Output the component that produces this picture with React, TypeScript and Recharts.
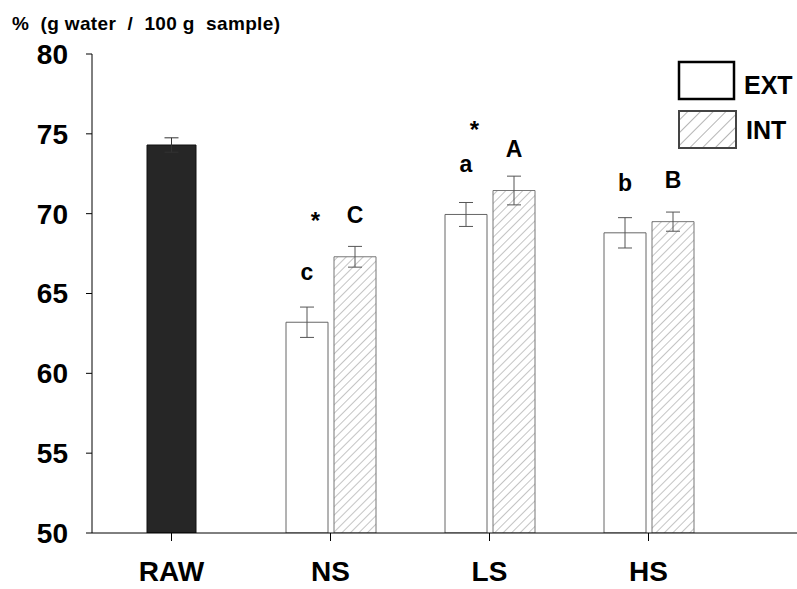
import { BarChart, Bar, XAxis, YAxis, ErrorBar, LabelList, ReferenceDot, Legend } from 'recharts';

const FONT = 'Arial, "Liberation Sans", Helvetica, sans-serif';

const categories = ['RAW', 'NS', 'LS', 'HS'];
const rawMean = [74.3, null, null, null];
const rawErr = [0.45, null, null, null];
const extMean = [null, 63.2, 69.95, 68.8];
const extErr = [null, 0.95, 0.75, 0.95];
const intMean = [null, 67.3, 71.45, 69.5];
const intErr = [null, 0.65, 0.9, 0.6];
const extLetters = ['', 'c', 'a', 'b'];
const intLetters = ['', 'C', 'A', 'B'];
const starLevel = [null, 69.9, 75.6, null];
const yTicks = [50, 55, 60, 65, 70, 75, 80];

const data = categories.map((name, i) => ({
    name,
    raw: rawMean[i],
    rawErr: rawErr[i],
    ext: extMean[i],
    extErr: extErr[i],
    int: intMean[i],
    intErr: intErr[i],
    extLetter: extLetters[i],
    intLetter: intLetters[i],
}));

const letterLabel = (gap: number) => (p: any) => {
    if (!p.value) return null;
    return (
        <text
            x={p.x + p.width / 2}
            y={p.y - gap}
            textAnchor="middle"
            dominantBaseline="central"
            fontSize={23}
            fontWeight="bold"
            fontFamily={FONT}
            fill="#000"
        >
            {p.value}
        </text>
    );
};

const Star = (p: any) => (
    <text x={p.cx - 15} y={p.cy + 14} textAnchor="middle" fontSize={24} fontWeight="bold" fontFamily={FONT} fill="#000">
        *
    </text>
);

const LegendBox = () => (
    <svg width={121} height={95} style={{ display: 'block' }}>
        <defs>
            <pattern id="hatchL" patternUnits="userSpaceOnUse" width={9} height={9} patternTransform="rotate(45)">
                <line x1={0} y1={0} x2={0} y2={9} stroke="#b5b5b5" strokeWidth={2} />
            </pattern>
        </defs>
        <rect x={3} y={3} width={55} height={37} fill="#fff" stroke="#000" strokeWidth={2.5} />
        <text x={68} y={26} dominantBaseline="central" fontSize={25} fontWeight="bold" fontFamily={FONT} fill="#000">
            EXT
        </text>
        <rect x={3} y={52} width={57} height={37} fill="url(#hatchL)" stroke="#444" strokeWidth={2} />
        <text x={70} y={71} dominantBaseline="central" fontSize={25} fontWeight="bold" fontFamily={FONT} fill="#000">
            INT
        </text>
    </svg>
);

const YTitle = () => (
    <text
        x={12}
        y={30}
        fontSize={19}
        fontWeight="bold"
        fontFamily={FONT}
        fill="#000"
        xmlSpace="preserve"
        textLength={268}
        lengthAdjust="spacing"
        style={{ whiteSpace: 'pre' }}
    >
        {'%  (g water  /  100 g  sample)'}
    </text>
);

export default function App() {
    return (
        <div style={{ position: 'absolute', left: 0, top: 0, width: 797, height: 589, overflow: 'hidden', background: '#fff' }}>
            <BarChart
                width={887}
                height={589}
                data={data}
                margin={{ top: 54, right: 0, bottom: 0, left: 0 }}
                barGap={6}
            >
                <defs>
                    <pattern id="hatch" patternUnits="userSpaceOnUse" width={6} height={6} patternTransform="rotate(45)">
                        <line x1={0} y1={0} x2={0} y2={6} stroke="#8a8a8a" strokeWidth={1} />
                    </pattern>
                </defs>
                <XAxis
                    xAxisId="main"
                    dataKey="name"
                    height={56}
                    padding={{ left: 0, right: 159 }}
                    interval={0}
                    tickSize={8}
                    tickMargin={20}
                    stroke="#000"
                    tick={{ fill: '#000', fontSize: 28, fontWeight: 'bold', fontFamily: FONT }}
                />
                <XAxis
                    xAxisId="raw"
                    orientation="top"
                    dataKey="name"
                    height={0}
                    padding={{ left: 0, right: 159 }}
                    tick={false}
                    tickLine={false}
                    stroke="#333"
                />
                <YAxis
                    width={92}
                    domain={[50, 80]}
                    ticks={yTicks}
                    allowDataOverflow
                    tickSize={6}
                    tickMargin={18}
                    stroke="#000"
                    tick={{ fill: '#000', fontSize: 28, fontWeight: 'bold', fontFamily: FONT }}
                    label={<YTitle />}
                />
                <Legend
                    verticalAlign="middle"
                    align="center"
                    layout="horizontal"
                    wrapperStyle={{ left: 676, top: 59, width: 121, height: 95 }}
                    content={() => <LegendBox />}
                />
                <Bar xAxisId="raw" dataKey="raw" barSize={49} fill="#262626" stroke="#111" isAnimationActive={false}>
                    <ErrorBar dataKey="rawErr" width={7} stroke="#333" strokeWidth={1} direction="y" />
                </Bar>
                <Bar xAxisId="main" dataKey="ext" barSize={42} fill="#fff" stroke="#666" isAnimationActive={false}>
                    <ErrorBar dataKey="extErr" width={7} stroke="#555" strokeWidth={1} direction="y" />
                    <LabelList dataKey="extLetter" content={letterLabel(50)} />
                </Bar>
                <Bar xAxisId="main" dataKey="int" barSize={42} fill="url(#hatch)" stroke="#777" isAnimationActive={false}>
                    <ErrorBar dataKey="intErr" width={7} stroke="#555" strokeWidth={1} direction="y" />
                    <LabelList dataKey="intLetter" content={letterLabel(42)} />
                </Bar>
                {starLevel.map((lvl, i) =>
                    lvl == null ? null : (
                        <ReferenceDot key={i} xAxisId="main" x={categories[i]} y={lvl} shape={Star} ifOverflow="visible" />
                    )
                )}
            </BarChart>
        </div>
    );
}
